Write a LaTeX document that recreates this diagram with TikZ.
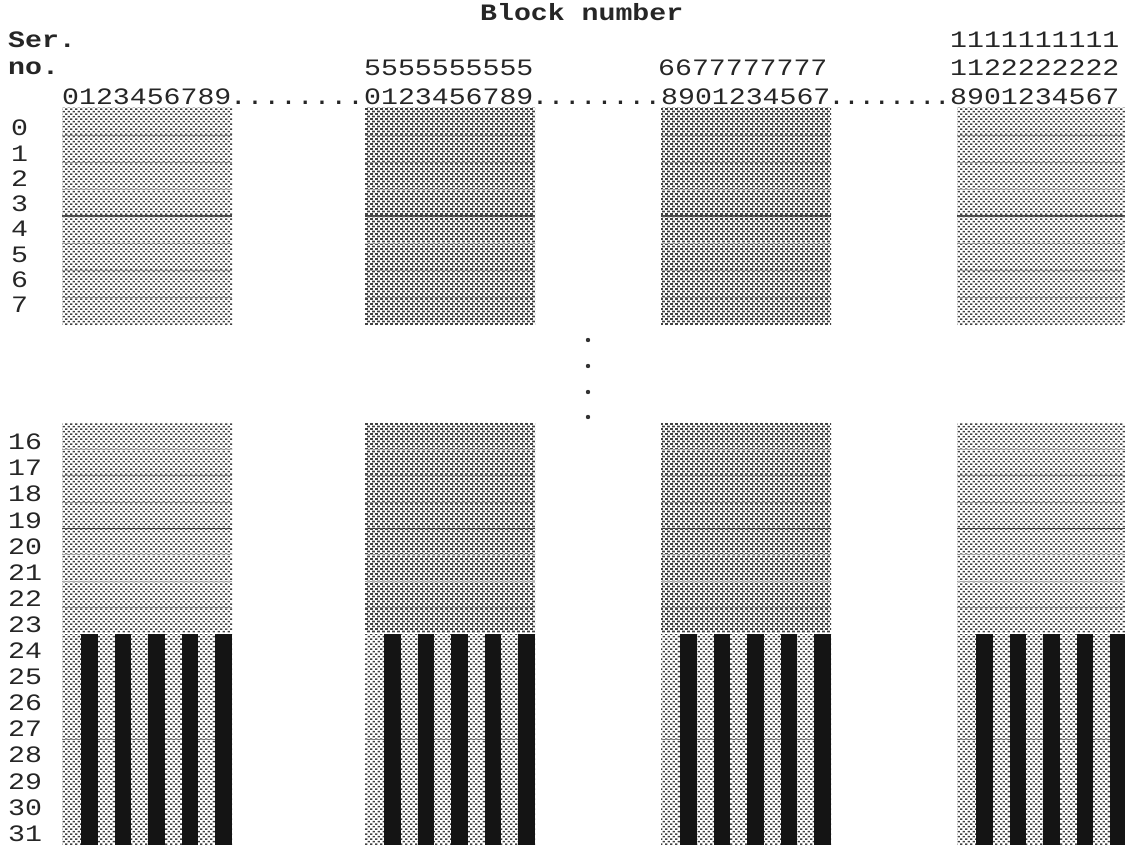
\documentclass[tikz,border=0pt]{standalone}
\usepackage{fontspec}
\setmonofont[FakeStretch=1.2]{Liberation Mono}
\usetikzlibrary{patterns}
\pgfdeclarepatternformonly{htlight}{\pgfqpoint{-1pt}{-1pt}}{\pgfqpoint{6pt}{6pt}}{\pgfqpoint{5pt}{5pt}}{%
  \pgfpathrectangle{\pgfqpoint{0pt}{0pt}}{\pgfqpoint{2.4pt}{1.7pt}}%
  \pgfpathrectangle{\pgfqpoint{2.5pt}{2.5pt}}{\pgfqpoint{2.4pt}{1.7pt}}%
  \pgfusepath{fill}}
\pgfdeclarepatternformonly{htdark}{\pgfqpoint{-1pt}{-1pt}}{\pgfqpoint{6pt}{6pt}}{\pgfqpoint{5pt}{5pt}}{%
  \pgfpathrectangle{\pgfqpoint{0pt}{0pt}}{\pgfqpoint{2.8pt}{1.9pt}}%
  \pgfpathrectangle{\pgfqpoint{2.1pt}{2.5pt}}{\pgfqpoint{2.8pt}{1.9pt}}%
  \pgfusepath{fill}}
\begin{document}
\begin{tikzpicture}[x=1pt,y=-1pt,
  lab/.style={font=\ttfamily\fontsize{23.5}{24}\selectfont, inner sep=0pt, anchor=west, text=black!85},
  hdr/.style={font=\ttfamily\bfseries\fontsize{23.5}{24}\selectfont, inner sep=0pt, anchor=west, text=black!85},
  dotlab/.style={font=\ttfamily\fontsize{23.5}{24}\selectfont, inner sep=0pt, anchor=base, text=black!85},
  lightfill/.style={pattern=htlight, pattern color=black!75},
  darkfill/.style={pattern=htdark, pattern color=black!75},
  rowline/.style={draw=black!35, line width=0.8pt},
  darkline/.style={draw=black!70, line width=1.6pt},
  midline/.style={draw=black!50, line width=1.2pt},
  stripe/.style={fill=black!92},
  vdot/.style={fill=black!80, draw=none}]
\useasboundingbox (0,0) rectangle (1125,845);

% headers
\node[hdr] (title) at (480,12) {Block number};
\node[hdr] (ser) at (8,40) {Ser.};
\node[hdr] (no) at (8,68) {no.};
\node[lab] (h2) at (364,68) {5555555555};
\node[lab] (h3) at (658,68) {6677777777};
\node[lab] (h4a) at (950,40) {1111111111};
\node[lab] (h4b) at (950,68) {1122222222};
\node[lab] (d1) at (62,97) {0123456789};
\node[lab] (d2) at (364,97) {0123456789};
\node[lab] (d3) at (661,97) {8901234567};
\node[lab] (d4) at (950,97) {8901234567};
% leader dots
\foreach \e/\s/\g in {230/364/a,532/661/b,829/950/c}{
  \foreach \k in {0,...,7}{
    \node[dotlab] (p\g\k) at ({\e+(\s-\e)*(\k+0.5)/8},105) {.};
  }
}

% row labels
\foreach \r in {0,...,7}{
  \node[lab] (r\r) at (11,{128+25.3*\r}) {\r};
}
\foreach \r in {16,...,31}{
  \node[lab] (r\r) at (8,{442+26.1*(\r-16)}) {\r};
}

% blocks
\foreach \L/\st in {62/lightfill,365/darkfill,661/darkfill,957/lightfill}{
  \path[\st] (\L,108) rectangle ++(170,216);
  \path[\st] (\L,423) rectangle ++(170,209);
  \path[lightfill] (\L,634) rectangle ++(170,211);
  \foreach \k in {1,2,3,5,6,7}{
    \draw[rowline] (\L,{108+27*\k}) -- ++(170,0);
  }
  \draw[darkline] (\L,216) -- ++(170,0);
  \foreach \k in {1,2,3,5,6,7}{
    \draw[rowline] (\L,{423+26.375*\k}) -- ++(170,0);
  }
  \draw[darkline] (\L,528.5) -- ++(170,0);
  \draw[midline] (\L,739.5) -- ++(170,0);
  \foreach \k in {0,...,4}{
    \path[stripe] ({\L+19+33.5*\k},634) rectangle ++(16.5,211);
  }
}

% vertical ellipsis
\foreach \y [count=\i] in {340,366,392,417}{
  \fill[vdot] (588,\y) circle (2.2);
  \coordinate (e\i) at (588,\y);
}
\end{tikzpicture}
\end{document}
